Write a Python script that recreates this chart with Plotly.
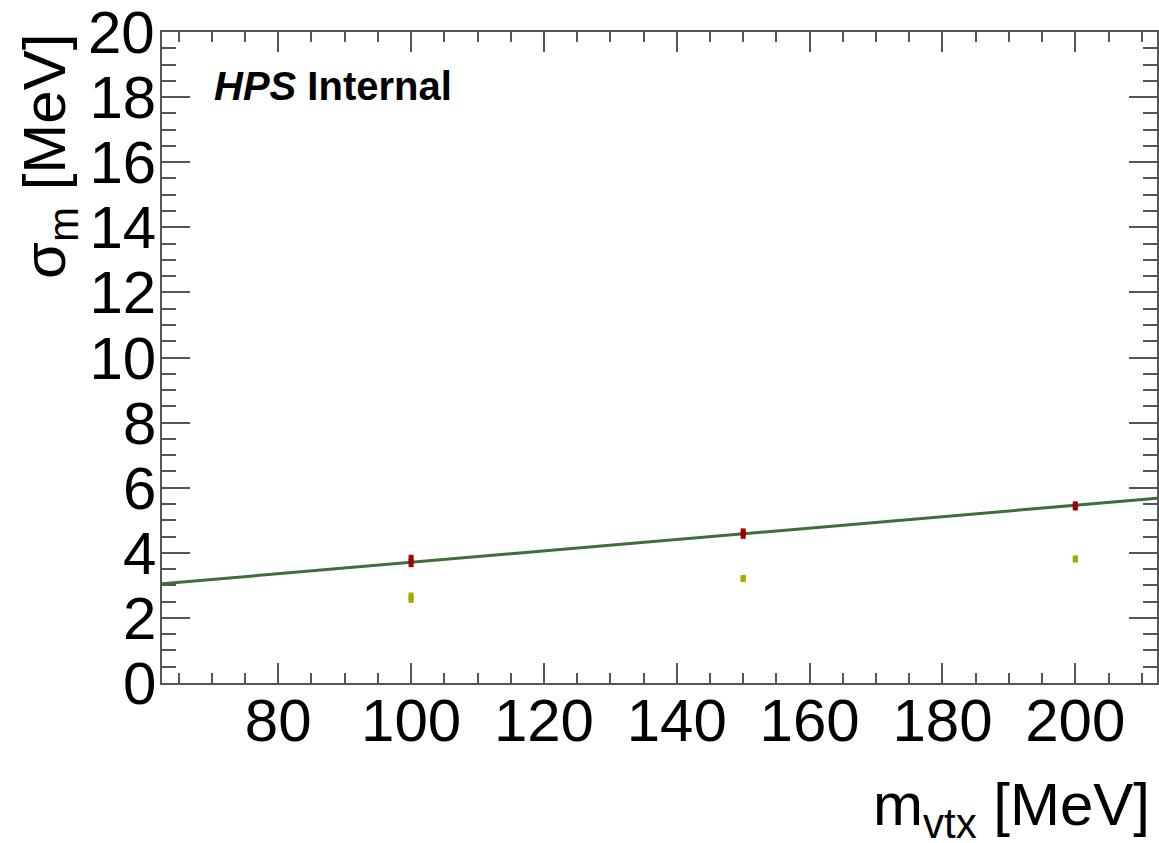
import plotly.graph_objects as go

# Data
mass = [100, 150, 200]
sigma_a = [3.75, 4.59, 5.44]      # red points
sigma_a_err = [0.19, 0.16, 0.14]
sigma_b = [2.62, 3.21, 3.81]      # yellow points
sigma_b_err = [0.16, 0.11, 0.11]
fit_x = [62.5, 212.5]             # green linear fit
fit_y = [3.05, 5.68]

x_ticks = [80, 100, 120, 140, 160, 180, 200]
y_ticks = [0, 2, 4, 6, 8, 10, 12, 14, 16, 18, 20]

FONT = "Liberation Sans, Arial, Helvetica, sans-serif"
AX = "#555555"

fig = go.Figure()
fig.add_trace(go.Scatter(x=fit_x, y=fit_y, mode="lines",
                         line=dict(color="#3c6e3c", width=3), showlegend=False))
fig.add_trace(go.Scatter(x=mass, y=sigma_b, mode="markers",
                         marker=dict(color="#a8a800", size=5, symbol="square"),
                         error_y=dict(type="data", array=sigma_b_err, color="#a8a800",
                                      thickness=5, width=0),
                         showlegend=False))
fig.add_trace(go.Scatter(x=mass, y=sigma_a, mode="markers",
                         marker=dict(color="#a00000", size=5, symbol="square"),
                         error_y=dict(type="data", array=sigma_a_err, color="#a00000",
                                      thickness=5, width=0),
                         showlegend=False))

fig.update_layout(
    width=1159, height=843,
    margin=dict(l=162, r=0, t=32, b=160),
    paper_bgcolor="white", plot_bgcolor="white",
    font=dict(family=FONT, color="black", size=60),
    xaxis=dict(range=[62.5, 212.3], tickvals=x_ticks, ticktext=[str(v) for v in x_ticks],
               ticks="inside", ticklen=20, tickwidth=1.5, tickcolor=AX,
               minor=dict(dtick=5, ticks="inside", ticklen=10, tickwidth=1.5, tickcolor=AX),
               showline=True, linecolor=AX, linewidth=1.5, mirror="allticks",
               showgrid=False, zeroline=False, ticklabelstandoff=-16,
               tickfont=dict(size=60, family=FONT, color="black")),
    yaxis=dict(range=[0, 20.0001], tickvals=y_ticks, ticktext=[str(v) for v in y_ticks],
               ticks="inside", ticklen=28, tickwidth=1.5, tickcolor=AX,
               minor=dict(dtick=0.5, ticks="inside", ticklen=14, tickwidth=1.5, tickcolor=AX),
               showline=True, linecolor=AX, linewidth=1.5, mirror="allticks",
               showgrid=False, zeroline=False, ticklabelstandoff=-8,
               tickfont=dict(size=60, family=FONT, color="black")),
    annotations=[
        # top y tick label (plotly drops it because it touches the page edge)
        dict(text=str(y_ticks[-1]), xref="paper", yref="y",
             x=-0.005, y=y_ticks[-1], xanchor="right", yanchor="middle", showarrow=False,
             font=dict(size=60, family=FONT, color="black")),
        dict(text="m<sub>vtx</sub> [MeV]", xref="paper", yref="paper",
             x=0.995, y=-0.255, xanchor="right", yanchor="bottom", showarrow=False,
             font=dict(size=60, family=FONT, color="black")),
        dict(text="σ<sub>m</sub> [MeV]", xref="paper", yref="paper",
             x=-0.114, y=1.0, xanchor="center", yanchor="top", textangle=-90,
             showarrow=False, font=dict(size=60, family=FONT, color="black")),
        dict(text="<b><i>HPS</i> Internal</b>", xref="paper", yref="paper",
             x=0.05, y=0.917, xanchor="left", yanchor="middle", showarrow=False,
             font=dict(size=40, family=FONT, color="black")),
    ],
)

fig.write_html("out.html")
